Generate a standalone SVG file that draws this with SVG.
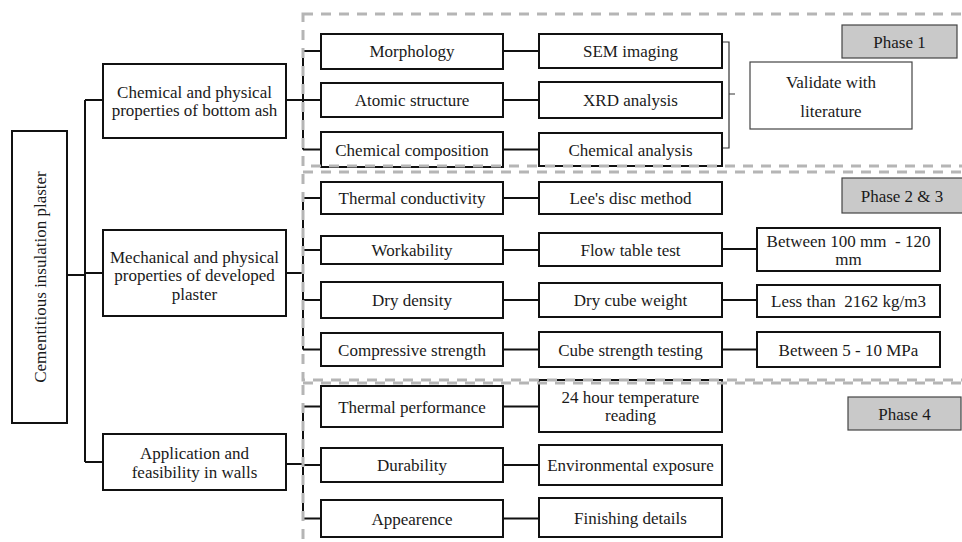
<svg xmlns="http://www.w3.org/2000/svg" width="962" height="542" viewBox="0 0 962 542">
<style>
.box{fill:#fff;stroke:#111;stroke-width:2}
.thin{fill:#fff;stroke:#444;stroke-width:1.2}
.phase{fill:#c9c9c9;stroke:#444;stroke-width:1.2}
.ln{stroke:#111;stroke-width:2;fill:none}
.br{stroke:#333;stroke-width:1.2;fill:none}
.dash{fill:none;stroke:#b5b5b5;stroke-width:3;stroke-dasharray:10 8}
text{font-family:"Liberation Serif","Times New Roman",serif;font-size:17px;fill:#1a1a1a;text-anchor:middle}
</style>
<rect width="962" height="542" fill="#fff"/>
<g id="connectors">
<path class="ln" d="M67 275H85M85 100V462M85 100H103M85 273H103M85 462H103"/>
<path class="ln" d="M286 100H303M303 51V149.5M303 51H321M303 100H321M303 149.5H321"/>
<path class="ln" d="M286 273H303M303 198V349.5M303 198H321M303 250H321M303 300H321M303 349.5H321"/>
<path class="ln" d="M286 464H303M303 406.5V518.5M303 406.5H321M303 465H321M303 518.5H321"/>
<path class="ln" d="M503 51H539M503 100H539M503 149.5H539M503 198H539M503 250H539M503 300H539M503 349.5H539M503 406.5H539M503 465H539M503 518.5H539"/>
<path class="ln" d="M722 249H757M722 300H757M722 349.5H757"/>
<path class="br" d="M722 42H729V148H722M729 94H735"/>
</g>
<g id="root"><rect class="box" x="12" y="131" width="55" height="292"/><text transform="translate(40 277) rotate(-90)" y="6">Cementitious insulation plaster</text></g>
<g id="cat1"><rect class="box" x="103" y="64" width="183" height="74"/><text x="194.5" y="97.5">Chemical and physical</text><text x="194.5" y="116">properties of bottom ash</text></g>
<g id="cat2"><rect class="box" x="103" y="230" width="183" height="86"/><text x="194.5" y="262.5">Mechanical and physical</text><text x="194.5" y="281">properties of developed</text><text x="194.5" y="299.5">plaster</text></g>
<g id="cat3"><rect class="box" x="103" y="434" width="183" height="56"/><text x="194.5" y="458.5">Application and</text><text x="194.5" y="477.5">feasibility in walls</text></g>
<g id="morphology"><rect class="box" x="321" y="34" width="182" height="35"/><text x="412" y="57">Morphology</text></g>
<g id="atomic"><rect class="box" x="321" y="83" width="182" height="34"/><text x="412" y="106">Atomic structure</text></g>
<g id="chemcomp"><rect class="box" x="321" y="132" width="182" height="35"/><text x="412" y="155.5">Chemical composition</text></g>
<g id="sem"><rect class="box" x="539" y="34" width="183" height="34"/><text x="630.5" y="57">SEM imaging</text></g>
<g id="xrd"><rect class="box" x="539" y="82" width="183" height="36"/><text x="630.5" y="106">XRD analysis</text></g>
<g id="chemanal"><rect class="box" x="539" y="133" width="183" height="33"/><text x="630.5" y="155.5">Chemical analysis</text></g>
<g id="validate"><rect class="thin" x="750" y="62" width="162" height="67"/><text x="831" y="88">Validate with</text><text x="831" y="117">literature</text></g>
<g id="phase1"><rect class="phase" x="842" y="25" width="115" height="33"/><text x="899.5" y="47.5">Phase 1</text></g>
<g id="thermcond"><rect class="box" x="321" y="182" width="182" height="32"/><text x="412" y="204">Thermal conductivity</text></g>
<g id="workability"><rect class="box" x="321" y="236" width="182" height="28"/><text x="412" y="256">Workability</text></g>
<g id="drydensity"><rect class="box" x="321" y="282" width="182" height="36"/><text x="412" y="306">Dry density</text></g>
<g id="compressive"><rect class="box" x="321" y="333" width="182" height="33"/><text x="412" y="355.5">Compressive strength</text></g>
<g id="lees"><rect class="box" x="539" y="182" width="183" height="32"/><text x="630.5" y="204">Lee's disc method</text></g>
<g id="flow"><rect class="box" x="539" y="233" width="183" height="33"/><text x="630.5" y="255.5">Flow table test</text></g>
<g id="drycube"><rect class="box" x="539" y="283" width="183" height="34"/><text x="630.5" y="306">Dry cube weight</text></g>
<g id="cubestrength"><rect class="box" x="539" y="332" width="183" height="35"/><text x="630.5" y="355.5">Cube strength testing</text></g>
<g id="between100"><rect class="box" x="757" y="228" width="183" height="43"/><text x="848.5" y="246.5">Between 100 mm&#160; - 120</text><text x="848.5" y="265">mm</text></g>
<g id="lessthan"><rect class="box" x="757" y="285" width="183" height="32"/><text x="848.5" y="307">Less than&#160; 2162 kg/m3</text></g>
<g id="between5"><rect class="box" x="757" y="332" width="183" height="35"/><text x="848.5" y="355.5">Between 5 - 10 MPa</text></g>
<g id="phase23"><rect class="phase" x="842" y="178" width="122" height="35"/><text x="902" y="201.5">Phase 2 &amp; 3</text></g>
<g id="thermperf"><rect class="box" x="321" y="386" width="182" height="41"/><text x="412" y="412.5">Thermal performance</text></g>
<g id="durability"><rect class="box" x="321" y="448" width="182" height="34"/><text x="412" y="471">Durability</text></g>
<g id="appearence"><rect class="box" x="321" y="500" width="182" height="37"/><text x="412" y="524.5">Appearence</text></g>
<g id="hour24"><rect class="box" x="539" y="380" width="183" height="52"/><text x="630.5" y="402.5">24 hour temperature</text><text x="630.5" y="421">reading</text></g>
<g id="environmental"><rect class="box" x="539" y="445" width="183" height="40"/><text x="630.5" y="471">Environmental exposure</text></g>
<g id="finishing"><rect class="box" x="539" y="498" width="183" height="39"/><text x="630.5" y="523.5">Finishing details</text></g>
<g id="phase4"><rect class="phase" x="848" y="397" width="113" height="33"/><text x="904.5" y="419.5">Phase 4</text></g>
<g id="phases">
<rect class="dash" x="303" y="14" width="680" height="152"/>
<rect class="dash" x="303" y="172" width="680" height="208"/>
<rect class="dash" x="303" y="383" width="680" height="190"/>
</g>
</svg>
